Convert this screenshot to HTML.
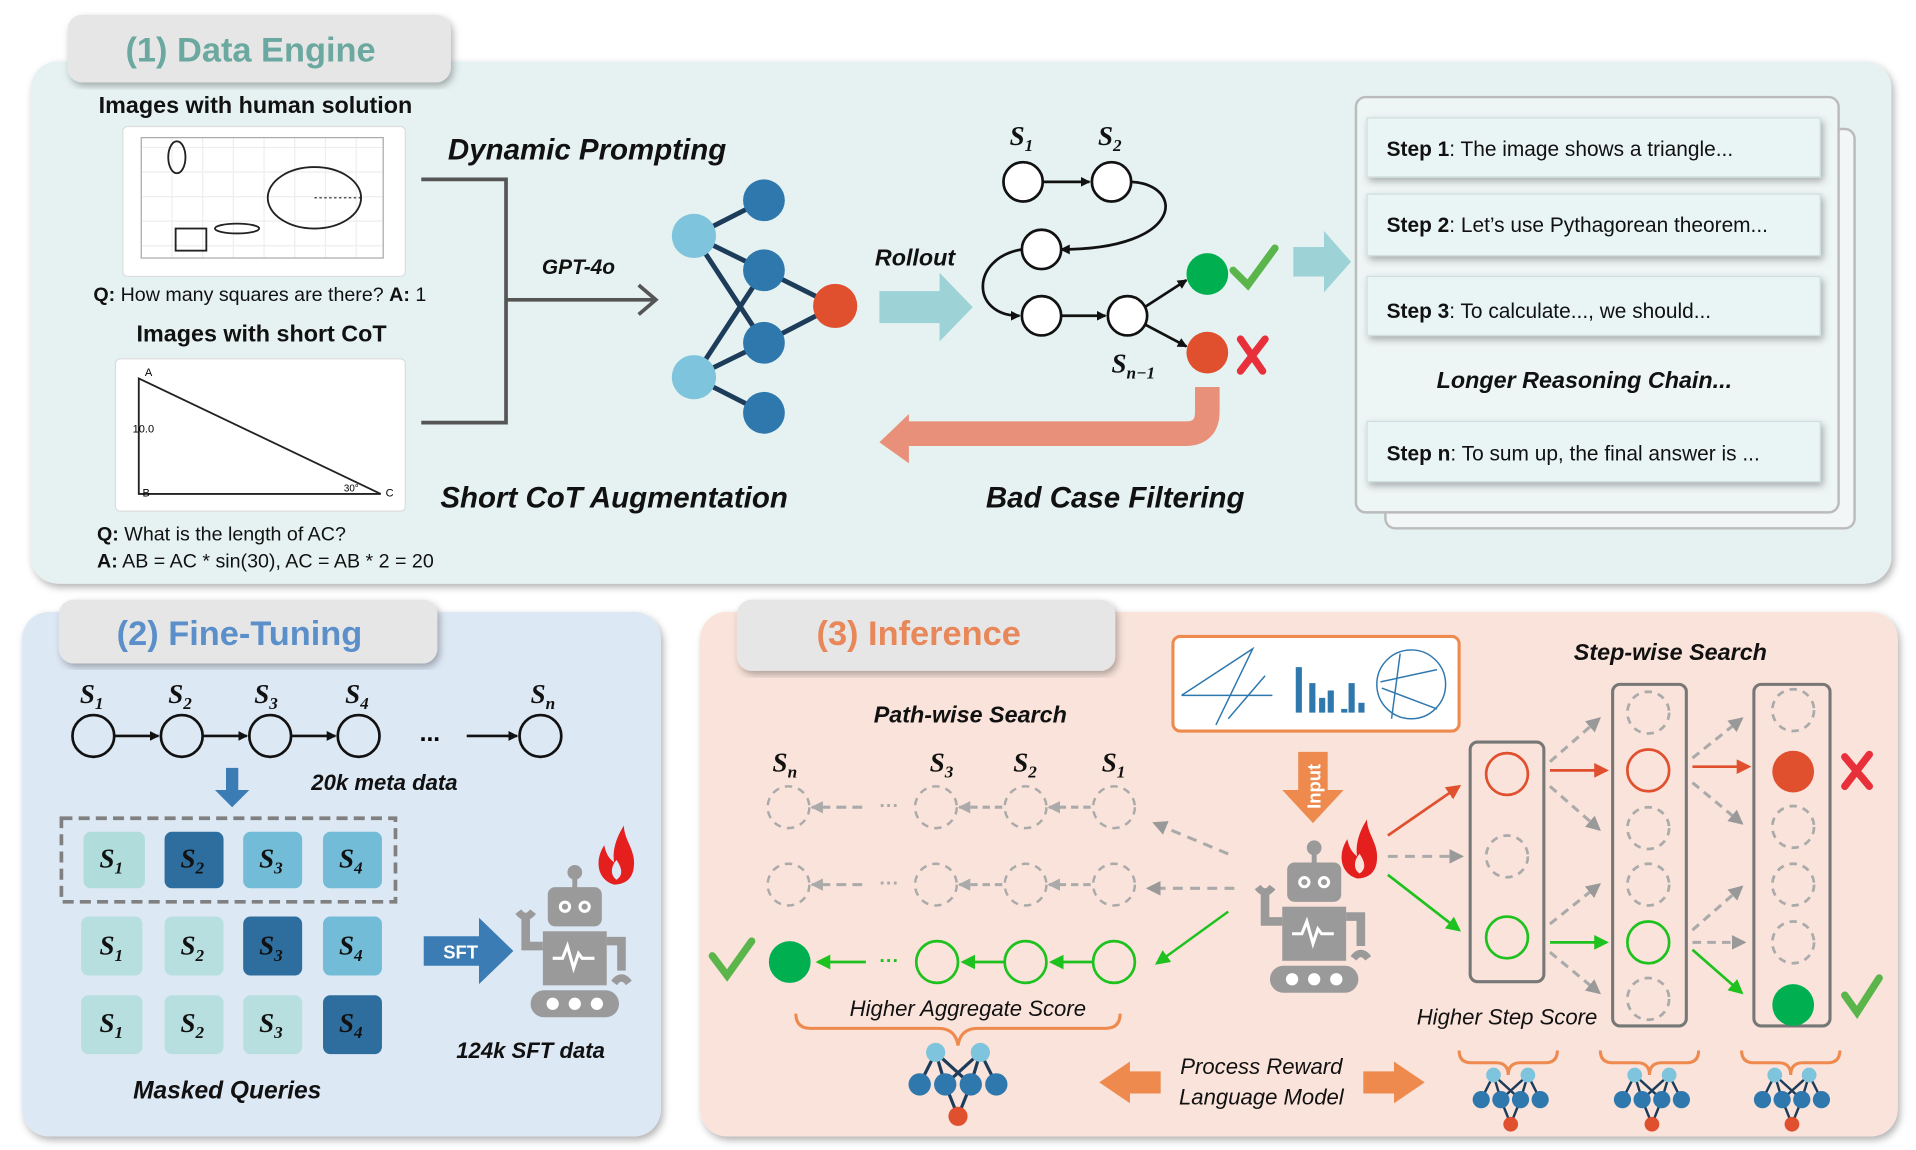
<!DOCTYPE html>
<html><head><meta charset="utf-8"><style>
html,body{margin:0;padding:0;background:#fff;}
svg{display:block;}
text{font-family:"Liberation Sans",sans-serif;}
.t{font-weight:bold;font-style:italic;fill:#111;}
.s,.s text,.s tspan{font-family:"Liberation Serif",serif;font-weight:bold;font-style:italic;fill:#111;}
</style></head><body>
<svg width="1916" height="1150" viewBox="0 0 1560 936" preserveAspectRatio="none" xmlns="http://www.w3.org/2000/svg">
<defs>
<filter id="sh" x="-5%" y="-5%" width="110%" height="115%"><feDropShadow dx="2" dy="3" stdDeviation="3" flood-color="#000" flood-opacity="0.3"/></filter>
<marker id="ab" markerWidth="8" markerHeight="8" refX="7" refY="4" orient="auto" markerUnits="userSpaceOnUse"><path d="M0,0 L8,4 L0,8z" fill="#111"/></marker>
<marker id="ag" markerWidth="12" markerHeight="12" refX="10" refY="6" orient="auto" markerUnits="userSpaceOnUse"><path d="M0,0 L12,6 L0,12z" fill="#999"/></marker>
<marker id="ag2" markerWidth="10" markerHeight="10" refX="9" refY="5" orient="auto" markerUnits="userSpaceOnUse"><path d="M0,0 L10,5 L0,10z" fill="#aaa"/></marker>
<marker id="agr" markerWidth="12" markerHeight="12" refX="10" refY="6" orient="auto" markerUnits="userSpaceOnUse"><path d="M0,0 L12,6 L0,12z" fill="#1ec21e"/></marker>
<marker id="ar" markerWidth="12" markerHeight="12" refX="10" refY="6" orient="auto" markerUnits="userSpaceOnUse"><path d="M0,0 L12,6 L0,12z" fill="#e0502f"/></marker>
<g id="robot" fill="#9a9a9a">
<circle cx="0" cy="-60" r="6"/><rect x="-2" y="-58" width="4" height="12"/>
<rect x="-22" y="-48" width="44" height="32" rx="6"/>
<circle cx="-8" cy="-32" r="5" fill="#fff"/><circle cx="8" cy="-32" r="5" fill="#fff"/>
<circle cx="-8" cy="-32" r="2.5"/><circle cx="8" cy="-32" r="2.5"/>
<rect x="-26" y="-12" width="52" height="44"/>
<path d="M-18,10 l8,0 l4,-10 l5,18 l4,-12 l3,4 l10,0" stroke="#fff" stroke-width="2.5" fill="none"/>
<path d="M-26,0 l-14,0 l0,-22" stroke="#9a9a9a" stroke-width="7" fill="none"/>
<path d="M-46,-28 q6,8 12,0" stroke="#9a9a9a" stroke-width="6" fill="none"/>
<path d="M26,-4 l12,0 l0,24" stroke="#9a9a9a" stroke-width="7" fill="none"/>
<path d="M32,30 q6,-8 12,0" stroke="#9a9a9a" stroke-width="6" fill="none"/>
<rect x="-36" y="36" width="72" height="22" rx="11"/>
<circle cx="-18" cy="47" r="5" fill="#fff"/><circle cx="0" cy="47" r="5" fill="#fff"/><circle cx="18" cy="47" r="5" fill="#fff"/>
</g>
<path id="flame" d="M0,0 C-14,-4 -16,-20 -8,-32 C-6,-22 -2,-20 0,-18 C-2,-30 4,-42 8,-48 C8,-36 18,-28 16,-14 C15,-4 8,0 0,0z M2,-4 C-4,-8 -2,-16 2,-20 C6,-14 8,-8 2,-4z" fill="#e51e1e" fill-rule="evenodd"/>
<g id="net">
<g stroke="#1c3c5a" stroke-width="2"><path d="M-14,-18 L-24,2 M-14,-18 L-8,2 M-14,-18 L8,2 M14,-18 L24,2 M14,-18 L8,2 M14,-18 L-8,2 M-8,2 L0,22 M8,2 L0,22"/></g>
<circle cx="-14" cy="-18" r="6" fill="#7ec4dc"/><circle cx="14" cy="-18" r="6" fill="#7ec4dc"/>
<circle cx="-24" cy="2" r="7" fill="#2f78ad"/><circle cx="-8" cy="2" r="7" fill="#2f78ad"/><circle cx="8" cy="2" r="7" fill="#2f78ad"/><circle cx="24" cy="2" r="7" fill="#2f78ad"/>
<circle cx="0" cy="22" r="6" fill="#e0502f"/>
</g>
<path id="brace" d="M-40,0 q0,10 10,10 l20,0 q10,0 10,10 q0,-10 10,-10 l20,0 q10,0 10,-10" stroke="#ee8a4e" stroke-width="2.5" fill="none"/>
</defs>

<!-- Panel 1 -->
<rect x="25" y="50" width="1515" height="425" rx="22" fill="#e5f2f1" filter="url(#sh)"/>
<rect x="55" y="12" width="312" height="55" rx="12" fill="#e6e6e6" filter="url(#sh)"/>
<text x="204" y="50" text-anchor="middle" font-size="28" font-weight="bold" fill="#6aa8a0">(1) Data Engine</text>

<text x="208" y="92" text-anchor="middle" font-size="19" font-weight="bold" fill="#111">Images with human solution</text>
<rect x="100" y="103" width="230" height="122" rx="4" fill="#fff" stroke="#ddd"/>
<g stroke="#eee" stroke-width="1">
<path d="M115,112 V210 M140,112 V210 M165,112 V210 M190,112 V210 M215,112 V210 M240,112 V210 M265,112 V210 M290,112 V210 M312,112 V210 M115,120 H312 M115,140 H312 M115,160 H312 M115,180 H312 M115,200 H312"/>
</g>
<rect x="115" y="112" width="197" height="98" fill="none" stroke="#aaa"/>
<ellipse cx="144" cy="128" rx="7" ry="13" fill="none" stroke="#222" stroke-width="1.5"/>
<ellipse cx="256" cy="161" rx="38" ry="25" fill="none" stroke="#222" stroke-width="1.5"/>
<path d="M256,161 H294" stroke="#222" stroke-dasharray="2,2"/>
<ellipse cx="193" cy="186" rx="18" ry="4" fill="none" stroke="#222" stroke-width="1.5"/>
<rect x="143" y="186" width="25" height="18" fill="none" stroke="#222" stroke-width="1.5"/>
<text x="76" y="245" font-size="16" fill="#111"><tspan font-weight="bold">Q:</tspan> How many squares are there? <tspan font-weight="bold">A:</tspan> 1</text>
<text x="213" y="278" text-anchor="middle" font-size="19" font-weight="bold" fill="#111">Images with short CoT</text>
<rect x="94" y="292" width="236" height="124" rx="4" fill="#fff" stroke="#ddd"/>
<path d="M113,308 L113,402 L310,402 Z" fill="none" stroke="#222" stroke-width="1.5"/>
<text x="118" y="306" font-size="9" font-family="Liberation Serif">A</text>
<text x="108" y="352" font-size="9" font-family="Liberation Serif">10.0</text>
<text x="116" y="404" font-size="9" font-family="Liberation Serif">B</text>
<text x="314" y="404" font-size="9" font-family="Liberation Serif">C</text>
<text x="280" y="400" font-size="8" font-family="Liberation Serif">30°</text>
<text x="79" y="440" font-size="16" fill="#111"><tspan font-weight="bold">Q:</tspan> What is the length of AC?</text>
<text x="79" y="462" font-size="16" fill="#111"><tspan font-weight="bold">A:</tspan> AB = AC * sin(30), AC = AB * 2 = 20</text>

<path d="M343,146 H412 V344 H343" stroke="#555" stroke-width="3" fill="none"/>
<path d="M412,244 H533 M520,232 L534,244 L520,256" stroke="#555" stroke-width="3" fill="none"/>
<text x="471" y="223" text-anchor="middle" class="t" font-size="17">GPT-4o</text>
<text x="478" y="130" text-anchor="middle" class="t" font-size="24">Dynamic Prompting</text>

<g stroke="#1c3c5a" stroke-width="4">
<path d="M565,192 L622,163 M565,192 L622,220 M565,192 L622,279 M565,307 L622,220 M565,307 L622,279 M565,307 L622,336 M622,220 L680,249 M622,279 L680,249"/>
</g>
<circle cx="622" cy="163" r="17" fill="#2f78ad"/><circle cx="622" cy="220" r="17" fill="#2f78ad"/>
<circle cx="622" cy="279" r="17" fill="#2f78ad"/><circle cx="622" cy="336" r="17" fill="#2f78ad"/>
<circle cx="565" cy="192" r="18" fill="#7ec4dc"/><circle cx="565" cy="307" r="18" fill="#7ec4dc"/>
<circle cx="680" cy="249" r="18" fill="#e0502f"/>

<text x="745" y="216" text-anchor="middle" class="t" font-size="19">Rollout</text>
<path d="M716,237 H765 V222 L792,250 L765,278 V263 H716 Z" fill="#9dd3d6"/>

<text x="822" y="118" class="s" font-size="22">S<tspan font-size="14" dy="5">1</tspan></text>
<text x="894" y="118" class="s" font-size="22">S<tspan font-size="14" dy="5">2</tspan></text>
<g stroke="#111" stroke-width="2.2" fill="none">
<path d="M849,148 H887" marker-end="url(#ab)"/>
<path d="M921,148 C965,150 965,203 864,203" marker-end="url(#ab)"/>
<path d="M832,203 C790,210 790,257 830,257" marker-end="url(#ab)"/>
<path d="M864,257 H900" marker-end="url(#ab)"/>
<path d="M932,250 L966,228" marker-end="url(#ab)"/>
<path d="M932,264 L966,282" marker-end="url(#ab)"/>
<circle cx="833" cy="148" r="16" fill="#fff"/><circle cx="905" cy="148" r="16" fill="#fff"/>
<circle cx="848" cy="203" r="16" fill="#fff"/><circle cx="848" cy="257" r="16" fill="#fff"/>
<circle cx="918" cy="257" r="16" fill="#fff"/>
</g>
<circle cx="983" cy="223" r="17" fill="#00b050"/>
<circle cx="983" cy="287" r="17" fill="#e0502f"/>
<path d="M1004,220 L1016,232 L1038,202" stroke="#5ab54a" stroke-width="6" fill="none" stroke-linecap="round"/>
<path d="M1010,276 L1028,302 M1030,276 L1010,302" stroke="#e8303a" stroke-width="6" stroke-linecap="round"/>
<text x="905" y="303" class="s" font-size="22">S<tspan font-size="14" dy="5">n−1</tspan></text>
<path d="M983,315 V335 Q983,353 965,353 H738" stroke="#e8907a" stroke-width="20" fill="none"/>
<path d="M740,337 L716,360 L740,377 Z" fill="#e8907a"/>
<text x="500" y="413" text-anchor="middle" class="t" font-size="24">Short CoT Augmentation</text>
<text x="908" y="413" text-anchor="middle" class="t" font-size="24">Bad Case Filtering</text>
<path d="M1053,201 H1078 V188 L1100,213 L1078,238 V225 H1053 Z" fill="#9dd3d6"/>

<rect x="1128" y="105" width="382" height="325" rx="8" fill="#f2f6f6" stroke="#bbb" stroke-width="2"/>
<rect x="1104" y="79" width="393" height="338" rx="8" fill="#eef5f5" stroke="#bbb" stroke-width="2"/>
<g fill="#e9f4f4" stroke="#cfdede" filter="url(#sh)">
<rect x="1113" y="96" width="369" height="48"/><rect x="1113" y="158" width="369" height="50"/>
<rect x="1113" y="225" width="369" height="48"/><rect x="1113" y="343" width="369" height="49"/>
</g>
<g font-size="17" fill="#111">
<text x="1129" y="127"><tspan font-weight="bold">Step 1</tspan>: The image shows a triangle...</text>
<text x="1129" y="189"><tspan font-weight="bold">Step 2</tspan>:  Let’s use Pythagorean theorem...</text>
<text x="1129" y="259"><tspan font-weight="bold">Step 3</tspan>:  To calculate..., we should...</text>
<text x="1129" y="375"><tspan font-weight="bold">Step n</tspan>: To sum up, the final answer is ...</text>
</g>
<text x="1290" y="316" text-anchor="middle" class="t" font-size="19">Longer Reasoning Chain...</text>

<!-- Panel 2 -->
<rect x="18" y="498" width="520" height="427" rx="22" fill="#dde8f5" filter="url(#sh)"/>
<rect x="48" y="488" width="308" height="52" rx="12" fill="#e6e6e6" filter="url(#sh)"/>
<text x="195" y="525" text-anchor="middle" font-size="28" font-weight="bold" fill="#5b8fc9">(2) Fine-Tuning</text>
<g class="s" font-size="22">
<text x="65" y="572">S<tspan font-size="14" dy="5">1</tspan></text>
<text x="137" y="572">S<tspan font-size="14" dy="5">2</tspan></text>
<text x="207" y="572">S<tspan font-size="14" dy="5">3</tspan></text>
<text x="281" y="572">S<tspan font-size="14" dy="5">4</tspan></text>
<text x="432" y="572">S<tspan font-size="14" dy="5">n</tspan></text>
</g>
<g stroke="#111" stroke-width="2.2" fill="none">
<path d="M93,599 H129" marker-end="url(#ab)"/><path d="M165,599 H201" marker-end="url(#ab)"/>
<path d="M237,599 H273" marker-end="url(#ab)"/><path d="M380,599 H421" marker-end="url(#ab)"/>
<circle cx="76" cy="599" r="17"/><circle cx="148" cy="599" r="17"/><circle cx="220" cy="599" r="17"/><circle cx="292" cy="599" r="17"/><circle cx="440" cy="599" r="17"/>
</g>
<text x="350" y="603" text-anchor="middle" font-size="20" font-weight="bold">...</text>
<path d="M184,625 H194 V643 H203 L189,657 L175,643 H184 Z" fill="#3b7cb5"/>
<text x="313" y="643" text-anchor="middle" class="t" font-size="18">20k meta data</text>
<rect x="50" y="666" width="272" height="68" fill="none" stroke="#808080" stroke-width="3" stroke-dasharray="9,5"/>
<g>
<rect x="68" y="677" width="50" height="46" rx="6" fill="#b0dcdc"/><rect x="134" y="677" width="48" height="46" rx="6" fill="#2e6e9e"/>
<rect x="198" y="677" width="48" height="46" rx="6" fill="#72bcd8"/><rect x="263" y="677" width="48" height="46" rx="6" fill="#72bcd8"/>
<rect x="66" y="746" width="50" height="48" rx="6" fill="#b8dfdf"/><rect x="134" y="746" width="48" height="48" rx="6" fill="#b8dfdf"/>
<rect x="198" y="746" width="48" height="48" rx="6" fill="#2e6e9e"/><rect x="263" y="746" width="48" height="48" rx="6" fill="#72bcd8"/>
<rect x="66" y="810" width="50" height="48" rx="6" fill="#b8dfdf"/><rect x="134" y="810" width="48" height="48" rx="6" fill="#b8dfdf"/>
<rect x="198" y="810" width="48" height="48" rx="6" fill="#b8dfdf"/><rect x="263" y="810" width="48" height="48" rx="6" fill="#2e6e9e"/>
</g>
<g class="s" font-size="22">
<text x="81" y="706">S<tspan font-size="14" dy="5">1</tspan></text><text x="147" y="706">S<tspan font-size="14" dy="5">2</tspan></text>
<text x="211" y="706">S<tspan font-size="14" dy="5">3</tspan></text><text x="276" y="706">S<tspan font-size="14" dy="5">4</tspan></text>
<text x="81" y="777">S<tspan font-size="14" dy="5">1</tspan></text><text x="147" y="777">S<tspan font-size="14" dy="5">2</tspan></text>
<text x="211" y="777">S<tspan font-size="14" dy="5">3</tspan></text><text x="276" y="777">S<tspan font-size="14" dy="5">4</tspan></text>
<text x="81" y="840">S<tspan font-size="14" dy="5">1</tspan></text><text x="147" y="840">S<tspan font-size="14" dy="5">2</tspan></text>
<text x="211" y="840">S<tspan font-size="14" dy="5">3</tspan></text><text x="276" y="840">S<tspan font-size="14" dy="5">4</tspan></text>
</g>
<path d="M345,762 H390 V747 L418,774 L390,801 V786 H345 Z" fill="#3b7cb5"/>
<text x="375" y="780" text-anchor="middle" font-size="15" font-weight="bold" fill="#fff">SFT</text>
<use href="#robot" transform="translate(468,770)"/>
<use href="#flame" transform="translate(500,720)"/>
<text x="432" y="861" text-anchor="middle" class="t" font-size="18">124k SFT data</text>
<text x="185" y="894" text-anchor="middle" class="t" font-size="20">Masked Queries</text>

<!-- Panel 3 -->
<rect x="570" y="498" width="975" height="427" rx="22" fill="#f9e3da" filter="url(#sh)"/>
<rect x="600" y="488" width="308" height="58" rx="12" fill="#e6e6e6" filter="url(#sh)"/>
<text x="748" y="525" text-anchor="middle" font-size="28" font-weight="bold" fill="#e8885a">(3) Inference</text>

<rect x="955" y="518" width="233" height="77" rx="6" fill="#fff" stroke="#ee8a4e" stroke-width="2.5"/>
<g stroke="#2f78ad" stroke-width="1.2" fill="none">
<path d="M962,566 L1020,528 L990,590 M962,566 H1036 M1000,585 L1030,550"/>
<circle cx="1149" cy="557" r="28"/><path d="M1124,555 L1170,545 M1125,560 L1170,577 M1140,532 L1133,585"/>
</g>
<g fill="#2f78ad">
<rect x="1055" y="543" width="5" height="37"/><rect x="1066" y="556" width="5" height="24"/><rect x="1074" y="568" width="5" height="12"/>
<rect x="1081" y="562" width="5" height="18"/><rect x="1092" y="577" width="5" height="3"/><rect x="1098" y="556" width="5" height="24"/><rect x="1106" y="572" width="5" height="8"/>
</g>
<text x="1360" y="537" text-anchor="middle" class="t" font-size="19">Step-wise Search</text>
<text x="790" y="588" text-anchor="middle" class="t" font-size="19">Path-wise Search</text>
<g class="s" font-size="22">
<text x="629" y="628">S<tspan font-size="14" dy="5">n</tspan></text>
<text x="757" y="628">S<tspan font-size="14" dy="5">3</tspan></text>
<text x="825" y="628">S<tspan font-size="14" dy="5">2</tspan></text>
<text x="897" y="628">S<tspan font-size="14" dy="5">1</tspan></text>
</g>
<g stroke="#aaa" stroke-width="2" fill="none">
<g stroke-dasharray="6,5">
<circle cx="642" cy="657" r="17"/><circle cx="762" cy="657" r="17"/><circle cx="835" cy="657" r="17"/><circle cx="907" cy="657" r="17"/>
<circle cx="642" cy="720" r="17"/><circle cx="762" cy="720" r="17"/><circle cx="835" cy="720" r="17"/><circle cx="907" cy="720" r="17"/>
</g>
<g stroke-width="2.5">
<path d="M888,657 H854" stroke-dasharray="6,4" marker-end="url(#ag2)"/>
<path d="M816,657 H781" stroke-dasharray="6,4" marker-end="url(#ag2)"/>
<path d="M702,657 H661" stroke-dasharray="8,5" marker-end="url(#ag2)"/>
<path d="M888,720 H854" stroke-dasharray="6,4" marker-end="url(#ag2)"/>
<path d="M816,720 H781" stroke-dasharray="6,4" marker-end="url(#ag2)"/>
<path d="M702,720 H661" stroke-dasharray="8,5" marker-end="url(#ag2)"/>
</g>
</g>
<g font-size="16" font-weight="bold" fill="#aaa"><text x="716" y="661">···</text><text x="716" y="724">···</text></g>
<path d="M1000,695 L940,670" stroke="#aaa" stroke-width="2.5" stroke-dasharray="8,6" marker-end="url(#ag)"/>
<path d="M1005,723 H935" stroke="#aaa" stroke-width="2.5" stroke-dasharray="8,6" marker-end="url(#ag)"/>
<path d="M1000,742 L942,784" stroke="#1ec21e" stroke-width="2" marker-end="url(#agr)"/>
<g stroke="#1ec21e" stroke-width="2.2" fill="none">
<circle cx="763" cy="783" r="17"/><circle cx="835" cy="783" r="17"/><circle cx="907" cy="783" r="17"/>
<path d="M890,783 H856" marker-end="url(#agr)"/><path d="M818,783 H784" marker-end="url(#agr)"/><path d="M705,783 H666" marker-end="url(#agr)"/>
</g>
<text x="716" y="787" font-size="16" font-weight="bold" fill="#1ec21e">···</text>
<circle cx="643" cy="783" r="17" fill="#00b050"/>
<path d="M580,778 L592,794 L612,766" stroke="#5ab54a" stroke-width="6" fill="none" stroke-linecap="round"/>
<path d="M648,825 q0,12 12,12 h104 q14,0 16,14 q2,-14 16,-14 h104 q12,0 12,-12" stroke="#ee8a4e" stroke-width="2.5" fill="none"/>
<text x="788" y="827" text-anchor="middle" font-style="italic" font-size="18" fill="#111">Higher Aggregate Score</text>
<use href="#net" transform="translate(780,880) scale(1.3)"/>
<text x="1027" y="874" text-anchor="middle" font-style="italic" font-size="18" fill="#111">Process Reward</text>
<text x="1027" y="899" text-anchor="middle" font-style="italic" font-size="18" fill="#111">Language Model</text>
<path d="M945,872 H920 V864 L895,881 L920,898 V890 H945 Z" fill="#ee8a4e"/>
<path d="M1110,872 H1135 V864 L1160,881 L1135,898 V890 H1110 Z" fill="#ee8a4e"/>

<path d="M1057,612 H1081 V643 H1094 L1069,670 L1044,643 H1057 Z" fill="#ee8a4e"/>
<text transform="translate(1075,640) rotate(-90)" text-anchor="middle" font-size="15" font-weight="bold" fill="#fff">Input</text>
<use href="#robot" transform="translate(1070,750)"/>
<use href="#flame" transform="translate(1105,715)"/>

<path d="M1130,680 L1188,640" stroke="#e0502f" stroke-width="2.2" marker-end="url(#ar)"/>
<path d="M1130,697 H1190" stroke="#aaa" stroke-width="2.5" stroke-dasharray="8,6" marker-end="url(#ag)"/>
<path d="M1130,712 L1188,757" stroke="#1ec21e" stroke-width="2.2" marker-end="url(#agr)"/>

<g fill="none" stroke="#777" stroke-width="2.5">
<rect x="1197" y="604" width="60" height="195" rx="6"/>
<rect x="1313" y="557" width="60" height="278" rx="6"/>
<rect x="1428" y="557" width="62" height="278" rx="6"/>
</g>
<g fill="none" stroke-width="2.2">
<circle cx="1227" cy="630" r="17" stroke="#e0502f"/>
<circle cx="1227" cy="697" r="17" stroke="#aaa" stroke-dasharray="6,5"/>
<circle cx="1227" cy="763" r="17" stroke="#1ec21e"/>
<circle cx="1342" cy="580" r="17" stroke="#aaa" stroke-dasharray="6,5"/>
<circle cx="1342" cy="627" r="17" stroke="#e0502f"/>
<circle cx="1342" cy="674" r="17" stroke="#aaa" stroke-dasharray="6,5"/>
<circle cx="1342" cy="720" r="17" stroke="#aaa" stroke-dasharray="6,5"/>
<circle cx="1342" cy="767" r="17" stroke="#1ec21e"/>
<circle cx="1342" cy="813" r="17" stroke="#aaa" stroke-dasharray="6,5"/>
<circle cx="1460" cy="578" r="17" stroke="#aaa" stroke-dasharray="6,5"/>
<circle cx="1460" cy="673" r="17" stroke="#aaa" stroke-dasharray="6,5"/>
<circle cx="1460" cy="720" r="17" stroke="#aaa" stroke-dasharray="6,5"/>
<circle cx="1460" cy="767" r="17" stroke="#aaa" stroke-dasharray="6,5"/>
</g>
<circle cx="1460" cy="628" r="17" fill="#e0502f"/>
<circle cx="1460" cy="818" r="17" fill="#00b050"/>
<g stroke="#aaa" stroke-width="2.5" stroke-dasharray="7,5" fill="none">
<path d="M1262,620 L1302,585" marker-end="url(#ag)"/><path d="M1262,640 L1302,675" marker-end="url(#ag)"/>
<path d="M1262,752 L1302,720" marker-end="url(#ag)"/><path d="M1262,775 L1302,808" marker-end="url(#ag)"/>
<path d="M1378,617 L1418,585" marker-end="url(#ag)"/><path d="M1378,637 L1418,670" marker-end="url(#ag)"/>
<path d="M1378,757 L1418,722" marker-end="url(#ag)"/><path d="M1378,767 H1420" marker-end="url(#ag)"/>
</g>
<path d="M1262,627 H1308" stroke="#e0502f" stroke-width="2.2" marker-end="url(#ar)"/>
<path d="M1378,624 H1424" stroke="#e0502f" stroke-width="2.2" marker-end="url(#ar)"/>
<path d="M1262,767 H1308" stroke="#1ec21e" stroke-width="2.2" marker-end="url(#agr)"/>
<path d="M1378,773 L1418,808" stroke="#1ec21e" stroke-width="2.2" marker-end="url(#agr)"/>
<path d="M1502,616 L1522,640 M1522,614 L1502,640" stroke="#e8303a" stroke-width="6" stroke-linecap="round"/>
<path d="M1502,810 L1512,824 L1530,796" stroke="#5ab54a" stroke-width="6" fill="none" stroke-linecap="round"/>
<text x="1227" y="834" text-anchor="middle" font-style="italic" font-size="18" fill="#111">Higher Step Score</text>
<use href="#brace" transform="translate(1228,855)"/>
<use href="#brace" transform="translate(1343,855)"/>
<use href="#brace" transform="translate(1458,855)"/>
<use href="#net" transform="translate(1230,893)"/>
<use href="#net" transform="translate(1345,893)"/>
<use href="#net" transform="translate(1459,893)"/>
</svg>
</body></html>
